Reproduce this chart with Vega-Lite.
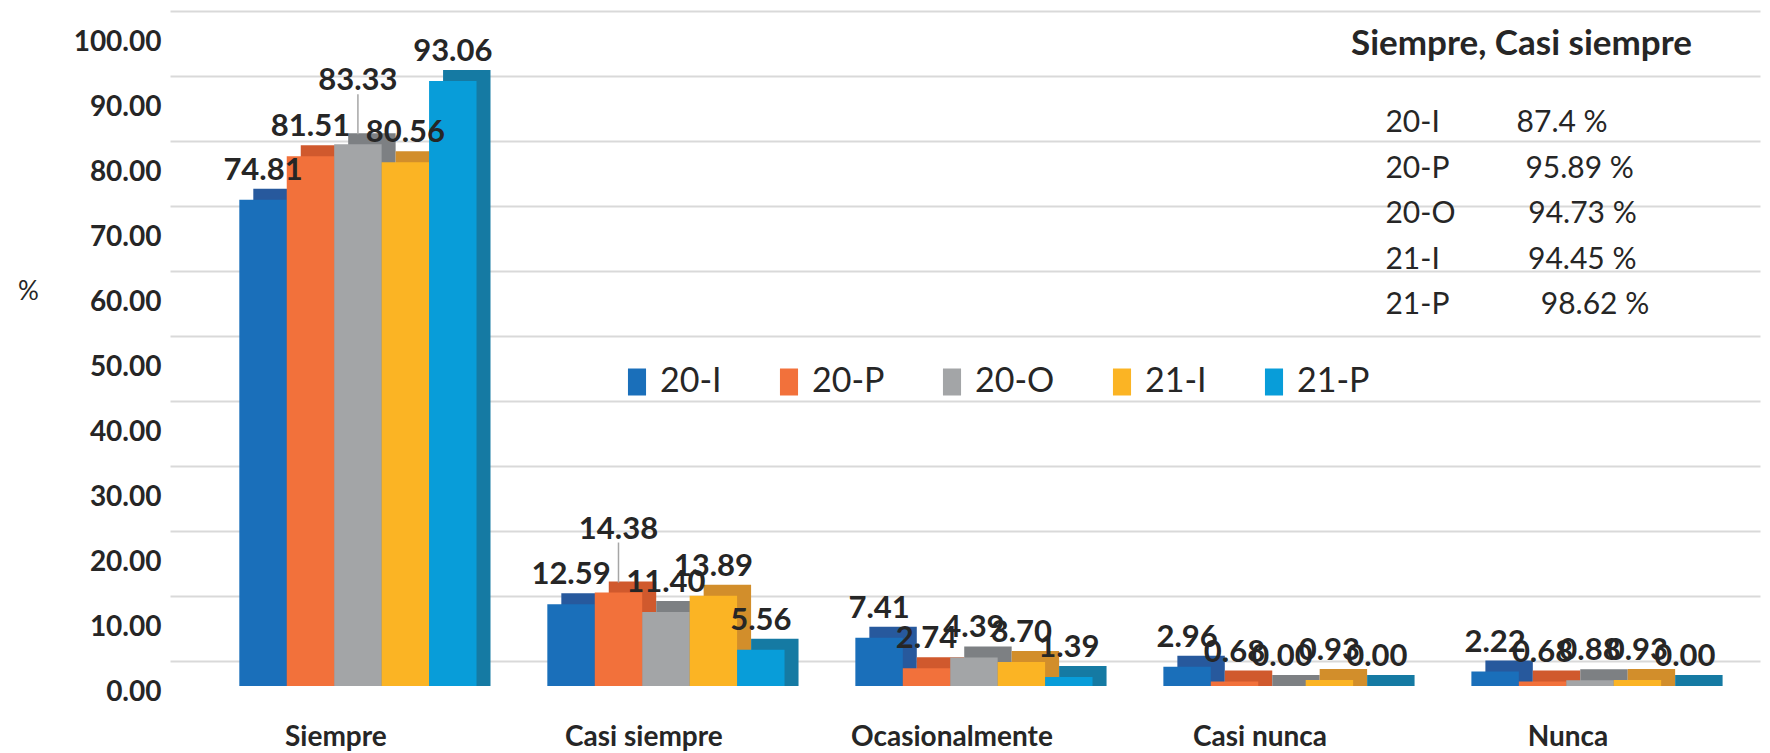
{
  "$schema": "https://vega.github.io/schema/vega-lite/v6.json",
  "width": 1590,
  "height": 650,
  "autosize": "none",
  "padding": {"left": 170, "top": 36, "right": 10, "bottom": 67},
  "background": "white",
  "config": {"view": {"stroke": null}, "font": "Lato"},
  "title": {
    "text": "Siempre, Casi siempre",
    "subtitle": [
      "\u200d\u00a0\u00a0\u00a0\u00a0\u2009\u200d20-I\u00a0\u00a0\u00a0\u00a0\u00a0\u00a0\u00a0\u00a0\u00a0\u00a087.4 %",
      "\u200d\u00a0\u00a0\u00a0\u00a0\u2009\u200d20-P\u00a0\u00a0\u00a0\u00a0\u00a0\u00a0\u00a0\u00a0\u00a0\u00a095.89 %",
      "\u200d\u00a0\u00a0\u00a0\u00a0\u2009\u200d20-O\u00a0\u00a0\u00a0\u00a0\u00a0\u00a0\u00a0\u00a0\u00a0\u200994.73 %",
      "\u200d\u00a0\u00a0\u00a0\u00a0\u2009\u200d21-I\u00a0\u00a0\u00a0\u00a0\u00a0\u00a0\u00a0\u00a0\u00a0\u00a0\u00a0\u200994.45 %",
      "\u200d\u00a0\u00a0\u00a0\u00a0\u2009\u200d21-P\u00a0\u00a0\u00a0\u00a0\u00a0\u00a0\u00a0\u00a0\u00a0\u00a0\u00a0\u00a098.62 %"
    ],
    "anchor": "start",
    "frame": "group",
    "orient": "top",
    "dx": 1181,
    "offset": -292,
    "font": "Lato",
    "fontSize": 35,
    "fontWeight": "bold",
    "color": "#262626",
    "subtitleFont": "Lato",
    "subtitleFontSize": 30,
    "subtitleColor": "#262626",
    "subtitleLineHeight": 45.5,
    "subtitlePadding": 46
  },
  "data": {
    "values": [
      {"cat": "Siempre", "serie": "20-I", "v": 74.81},
      {"cat": "Siempre", "serie": "20-P", "v": 81.51},
      {"cat": "Siempre", "serie": "20-O", "v": 83.33},
      {"cat": "Siempre", "serie": "21-I", "v": 80.56},
      {"cat": "Siempre", "serie": "21-P", "v": 93.06},
      {"cat": "Casi siempre", "serie": "20-I", "v": 12.59},
      {"cat": "Casi siempre", "serie": "20-P", "v": 14.38},
      {"cat": "Casi siempre", "serie": "20-O", "v": 11.40},
      {"cat": "Casi siempre", "serie": "21-I", "v": 13.89},
      {"cat": "Casi siempre", "serie": "21-P", "v": 5.56},
      {"cat": "Ocasionalmente", "serie": "20-I", "v": 7.41},
      {"cat": "Ocasionalmente", "serie": "20-P", "v": 2.74},
      {"cat": "Ocasionalmente", "serie": "20-O", "v": 4.39},
      {"cat": "Ocasionalmente", "serie": "21-I", "v": 3.70},
      {"cat": "Ocasionalmente", "serie": "21-P", "v": 1.39},
      {"cat": "Casi nunca", "serie": "20-I", "v": 2.96},
      {"cat": "Casi nunca", "serie": "20-P", "v": 0.68},
      {"cat": "Casi nunca", "serie": "20-O", "v": 0.00},
      {"cat": "Casi nunca", "serie": "21-I", "v": 0.93},
      {"cat": "Casi nunca", "serie": "21-P", "v": 0.00},
      {"cat": "Nunca", "serie": "20-I", "v": 2.22},
      {"cat": "Nunca", "serie": "20-P", "v": 0.68},
      {"cat": "Nunca", "serie": "20-O", "v": 0.88},
      {"cat": "Nunca", "serie": "21-I", "v": 0.93},
      {"cat": "Nunca", "serie": "21-P", "v": 0.00}
    ]
  },
  "encoding": {
    "x": {
      "field": "cat",
      "type": "nominal",
      "sort": ["Siempre", "Casi siempre", "Ocasionalmente", "Casi nunca", "Nunca"],
      "scale": {"paddingInner": 0.23, "paddingOuter": 0.196, "align": 0.574},
      "axis": {
        "title": null,
        "labelAngle": 0,
        "labelFont": "Lato",
        "labelFontSize": 28,
        "labelFontWeight": "bold",
        "labelColor": "#262626",
        "labelPadding": 37,
        "labelOffset": -22,
        "labelLimit": 0,
        "domain": false,
        "ticks": false,
        "grid": false
      }
    },
    "xOffset": {
      "field": "serie",
      "type": "nominal",
      "scale": {"type": "band", "domain": ["20-I", "20-P", "20-O", "21-I", "21-P"], "paddingInner": 0, "paddingOuter": 0, "range": [0, 237.2]}
    },
    "y": {
      "field": "v",
      "type": "quantitative",
      "scale": {"domain": [0, 100], "nice": false},
      "axis": null
    }
  },
  "layer": [
    {
      "mark": {"type": "bar", "yOffset": -11, "y2Offset": 0},
      "encoding": {
        "xOffset": {
          "field": "serie",
          "type": "nominal",
          "scale": {"type": "band", "domain": ["20-I", "20-P", "20-O", "21-I", "21-P"], "paddingInner": 0, "paddingOuter": 0, "range": [14, 251.2]}
        },
        "y": {
          "field": "v",
          "type": "quantitative",
          "scale": {"domain": [0, 100], "nice": false},
          "axis": {
            "orient": "right",
            "title": null,
            "labels": false,
            "ticks": false,
            "domain": false,
            "grid": true,
            "gridColor": "#d9d9d9",
            "gridWidth": 2,
            "tickCount": 10,
            "tickOffset": -25
          }
        },
        "y2": {"datum": 0},
        "color": {
          "field": "serie",
          "type": "nominal",
          "scale": {
            "domain": ["20-I", "20-P", "20-O", "21-I", "21-P"],
            "range": ["#27599d", "#d0592d", "#7d8083", "#d28e2b", "#157aa3"]
          },
          "legend": null
        }
      }
    },
    {
      "mark": {"type": "bar"},
      "encoding": {
        "y": {
          "field": "v",
          "type": "quantitative",
          "scale": {"domain": [0, 100], "nice": false},
          "axis": {
            "orient": "left",
            "title": "%",
            "titleAngle": 0,
            "titleX": -142,
            "titleY": 255,
            "titleAlign": "center",
            "titleBaseline": "middle",
            "titleFont": "Lato",
            "titleFontSize": 26,
            "titleFontWeight": "normal",
            "titleColor": "#262626",
            "format": ".2f",
            "tickCount": 10,
            "labelFont": "Lato",
            "labelFontSize": 28,
            "labelFontWeight": "bold",
            "labelColor": "#262626",
            "labelPadding": 9,
            "labelOffset": 6,
            "grid": false,
            "domain": false,
            "ticks": false
          }
        },
        "y2": {"datum": 0},
        "color": {
          "field": "serie",
          "type": "nominal",
          "scale": {
            "domain": ["20-I", "20-P", "20-O", "21-I", "21-P"],
            "range": ["#1a6fba", "#f2713b", "#a3a5a7", "#fbb424", "#089dd9"]
          },
          "legend": {
            "orient": "none",
            "legendX": 450,
            "legendY": 329,
            "direction": "horizontal",
            "title": null,
            "padding": 0,
            "labelFont": "Lato",
            "labelFontSize": 34,
            "labelColor": "#262626",
            "labelOffset": 6,
            "columnPadding": 50,
            "symbolType": "M-0.67,-1H0.67V1H-0.67Z",
            "symbolSize": 729,
            "symbolStrokeWidth": 0,
            "symbolOpacity": 1
          }
        }
      }
    },
    {
      "transform": [{"filter": "!((datum.cat == 'Siempre' && datum.serie == '20-O') || (datum.cat == 'Casi siempre' && datum.serie == '20-P'))"}],
      "mark": {"type": "text", "baseline": "alphabetic", "dy": -20, "font": "Lato", "fontSize": 31, "fontWeight": "bold", "color": "#262626"},
      "encoding": {"text": {"field": "v", "type": "quantitative", "format": ".2f"}}
    },
    {
      "transform": [{"filter": "(datum.cat == 'Siempre' && datum.serie == '20-O') || (datum.cat == 'Casi siempre' && datum.serie == '20-P')"}],
      "mark": {"type": "text", "baseline": "alphabetic", "dy": -54, "font": "Lato", "fontSize": 31, "fontWeight": "bold", "color": "#262626"},
      "encoding": {"text": {"field": "v", "type": "quantitative", "format": ".2f"}}
    },
    {
      "transform": [{"filter": "(datum.cat == 'Siempre' && datum.serie == '20-O') || (datum.cat == 'Casi siempre' && datum.serie == '20-P')"}],
      "mark": {"type": "rule", "color": "#a6a6a6", "strokeWidth": 1.5, "yOffset": -10, "y2Offset": -50},
      "encoding": {"y2": {"field": "v"}}
    }
  ],
  "resolve": {"scale": {"color": "independent", "xOffset": "independent"}, "axis": {"y": "independent"}}
}
